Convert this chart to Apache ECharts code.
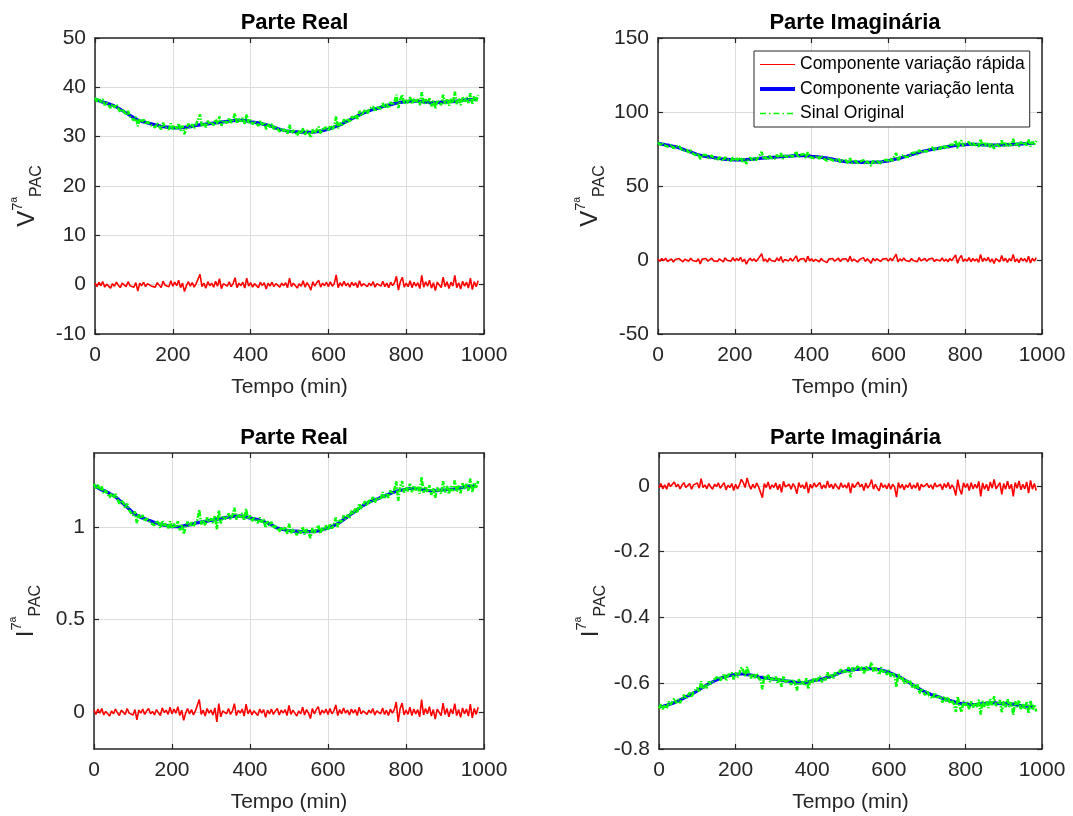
<!DOCTYPE html>
<html lang="pt">
<head>
<meta charset="utf-8">
<title>Componentes da 7ª harmônica no PAC</title>
<script src="https://cdn.jsdelivr.net/npm/echarts@6/dist/echarts.min.js"></script>
<style>
  html, body { margin: 0; padding: 0; background: #fff; }
  #grafico { width: 1073px; height: 816px; }
</style>
</head>
<body>
<div id="grafico"></div>
<script>
// Instantes de amostragem (min): componente rápida e sinal original a cada 5 min, componente lenta a cada 10 min
const tempoRapido = Array.from({ length: 198 }, (_, i) => i * 5);
const tempoLento = Array.from({ length: 99 }, (_, j) => j * 10);

// Tensão – parte real
const vRealLenta = [
  37.6, 37.3, 37.0, 36.8, 36.5, 36.2, 35.8, 35.3, 34.8, 34.3,
  33.8, 33.4, 33.1, 32.9, 32.7, 32.5, 32.3, 32.1, 32.0, 31.9,
  31.8, 31.8, 31.8, 31.9, 32.0, 32.1, 32.3, 32.4, 32.5, 32.6,
  32.7, 32.8, 32.9, 33.0, 33.1, 33.2, 33.3, 33.3, 33.3, 33.2,
  33.0, 32.9, 32.8, 32.6, 32.4, 32.2, 31.9, 31.6, 31.4, 31.2,
  31.1, 31.0, 31.0, 30.9, 30.9, 30.9, 30.9, 31.0, 31.1, 31.3,
  31.5, 31.8, 32.1, 32.4, 32.8, 33.2, 33.6, 34.0, 34.4, 34.8,
  35.1, 35.4, 35.6, 35.8, 36.1, 36.3, 36.5, 36.7, 36.9, 37.0,
  37.1, 37.2, 37.2, 37.2, 37.1, 37.0, 36.9, 36.9, 36.9, 37.0,
  37.0, 37.1, 37.1, 37.2, 37.3, 37.4, 37.5, 37.5, 37.6
];
const vRealRapida = [
  0.3, -0.4, 0.5, -0.2, 0.6, -0.5, 0.1, 0.4, -0.7, 0.2,
  -0.3, 0.5, -0.1, -0.6, 0.3, 0.2, -0.4, 0.6, -0.2, 0.1,
  -0.5, 0.4, -1.3, 0.3, -0.2, 0.5, -0.4, 0.2, 0.6, -0.3,
  0.1, -0.5, 0.4, 0.2, -0.6, 0.7, -0.1, 0.3, -0.4, 0.8,
  -0.3, 0.5, -0.2, 0.9, -0.6, 0.3, -1.4, -0.2, 0.6, -0.3,
  0.4, -0.5, 0.2, 0.5, 2.1, -0.4, 0.3, -0.7, 0.6, -0.2,
  0.3, -0.5, 0.7, -0.3, 1.2, -0.8, 0.2, 0.4, -0.3, 0.6,
  -0.4, 0.2, 1.4, -0.6, 0.3, -0.2, 0.5, -0.7, 1.3, -0.3,
  0.4, -0.5, 0.2, 0.3, -0.6, 0.5, -0.2, 0.4, -0.9, 0.3,
  -0.3, 0.5, -0.4, 0.2, 0.6, -0.5, 0.3, -0.2, 0.4, -0.6,
  1.3, -0.4, 0.3, 0.5, -0.7, 0.2, -0.3, 0.8, -0.5, 0.4,
  -0.2, -1.1, 0.6, -0.3, 0.4, 0.9, -0.5, 0.3, -0.2, 0.5,
  -0.4, 0.6, -0.3, 0.2, 2.0, -0.6, 0.4, -0.3, 0.7, -0.2,
  0.3, -0.5, 0.5, -0.2, 0.4, -0.6, 0.8, -0.3, 0.2, 0.5,
  -0.4, 0.3, -0.2, 0.6, -0.5, 0.2, 0.4, -0.3, 0.7, -0.4,
  0.3, -0.6, 0.5, -0.2, 0.4, 1.7, -1.1, 0.6, 1.5, -0.5,
  0.3, -0.4, 0.8, -0.6, 0.5, -0.3, 0.4, -0.8, 1.9, -0.5,
  0.6, -0.3, 0.9, -0.7, 0.4, -1.2, 0.5, 0.3, -0.6, 1.5,
  -0.4, 0.6, -0.8, 0.5, -0.3, 1.9, -0.6, 0.4, -0.9, 0.7,
  -0.3, 0.5, -0.7, 1.3, -1.0, 0.6, -0.4, 0.8
];
const vRealOriginal = [
  37.9, 37.1, 37.8, 37.0, 37.6, 36.4, 36.9, 37.1, 35.8, 36.6,
  35.9, 36.5, 35.7, 35.0, 35.6, 35.3, 34.4, 35.2, 34.1, 34.2,
  33.3, 34.0, 32.1, 33.6, 32.9, 33.5, 32.5, 33.0, 33.3, 32.3,
  32.6, 31.9, 32.7, 32.4, 31.5, 32.8, 31.9, 32.3, 31.5, 32.7,
  31.5, 32.3, 31.6, 32.7, 31.2, 32.2, 30.5, 31.8, 32.6, 31.8,
  32.5, 31.7, 32.5, 32.9, 34.5, 32.1, 32.8, 31.9, 33.2, 32.5,
  33.0, 32.3, 33.5, 32.6, 34.1, 32.2, 33.2, 33.5, 32.8, 33.8,
  32.8, 33.5, 34.7, 32.7, 33.6, 33.1, 33.8, 32.6, 34.5, 32.8,
  33.4, 32.5, 33.1, 33.2, 32.2, 33.2, 32.4, 32.9, 31.5, 32.6,
  31.9, 32.6, 31.5, 32.0, 32.2, 31.0, 31.7, 31.1, 31.6, 30.6,
  32.4, 30.7, 31.3, 31.5, 30.3, 31.2, 30.6, 31.7, 30.4, 31.3,
  30.7, 29.8, 31.5, 30.7, 31.4, 32.0, 30.6, 31.5, 31.1, 31.9,
  31.1, 32.3, 31.5, 32.2, 34.1, 31.7, 32.8, 32.3, 33.5, 32.8,
  33.5, 32.9, 34.1, 33.6, 34.4, 33.6, 35.2, 34.3, 35.0, 35.5,
  34.7, 35.6, 35.2, 36.1, 35.1, 35.9, 36.2, 35.7, 36.8, 35.8,
  36.6, 35.8, 37.0, 36.4, 37.1, 38.5, 35.8, 37.6, 38.5, 36.6,
  37.4, 36.8, 38.0, 36.6, 37.7, 36.9, 37.6, 36.4, 39.0, 36.6,
  37.6, 36.7, 37.8, 36.2, 37.3, 35.7, 37.4, 37.3, 36.4, 38.5,
  36.6, 37.7, 36.3, 37.6, 36.8, 39.1, 36.6, 37.7, 36.4, 38.1,
  37.1, 38.0, 36.8, 38.8, 36.5, 38.2, 37.2, 38.4
];

// Tensão – parte imaginária
const vImagLenta = [
  78.9, 78.3, 77.8, 77.4, 76.8, 76.2, 75.4, 74.4, 73.5, 72.5,
  71.5, 70.7, 70.1, 69.8, 69.4, 69.0, 68.6, 68.2, 68.0, 67.8,
  67.6, 67.6, 67.6, 67.8, 68.0, 68.2, 68.6, 68.8, 69.0, 69.2,
  69.4, 69.6, 69.8, 70.0, 70.1, 70.3, 70.5, 70.5, 70.5, 70.3,
  70.0, 69.8, 69.6, 69.2, 68.8, 68.4, 67.8, 67.2, 66.8, 66.4,
  66.2, 66.1, 66.1, 65.9, 65.9, 65.9, 65.9, 66.1, 66.2, 66.6,
  67.0, 67.6, 68.2, 68.8, 69.6, 70.3, 71.1, 71.9, 72.7, 73.5,
  74.0, 74.6, 75.0, 75.4, 76.0, 76.4, 76.8, 77.2, 77.6, 77.8,
  77.9, 78.1, 78.1, 78.1, 77.9, 77.8, 77.6, 77.6, 77.6, 77.8,
  77.8, 77.9, 77.9, 78.1, 78.3, 78.5, 78.7, 78.7, 78.9
];
const vImagRapida = [
  0.6, -0.8, 1.0, -0.4, 1.2, -1.0, 0.2, 0.8, -1.4, 0.4,
  -0.6, 1.0, -0.2, -1.2, 0.6, 0.4, -0.8, 1.2, -0.4, 0.2,
  -1.0, 0.8, -2.6, 0.6, -0.4, 1.0, -0.8, 0.4, 1.2, -0.6,
  0.2, -1.0, 0.8, 0.4, -1.2, 1.4, -0.2, 0.6, -0.8, 1.6,
  -0.6, 1.0, -0.4, 1.8, -1.2, 0.6, -2.8, -0.4, 1.2, -0.6,
  0.8, -1.0, 0.4, 1.0, 4.2, -0.8, 0.6, -1.4, 1.2, -0.4,
  0.6, -1.0, 1.4, -0.6, 2.4, -1.6, 0.4, 0.8, -0.6, 1.2,
  -0.8, 0.4, 2.8, -1.2, 0.6, -0.4, 1.0, -1.4, 2.6, -0.6,
  0.8, -1.0, 0.4, 0.6, -1.2, 1.0, -0.4, 0.8, -1.8, 0.6,
  -0.6, 1.0, -0.8, 0.4, 1.2, -1.0, 0.6, -0.4, 0.8, -1.2,
  2.6, -0.8, 0.6, 1.0, -1.4, 0.4, -0.6, 1.6, -1.0, 0.8,
  -0.4, -2.2, 1.2, -0.6, 0.8, 1.8, -1.0, 0.6, -0.4, 1.0,
  -0.8, 1.2, -0.6, 0.4, 4.0, -1.2, 0.8, -0.6, 1.4, -0.4,
  0.6, -1.0, 1.0, -0.4, 0.8, -1.2, 1.6, -0.6, 0.4, 1.0,
  -0.8, 0.6, -0.4, 1.2, -1.0, 0.4, 0.8, -0.6, 1.4, -0.8,
  0.6, -1.2, 1.0, -0.4, 0.8, 3.4, -2.2, 1.2, 3.0, -1.0,
  0.6, -0.8, 1.6, -1.2, 1.0, -0.6, 0.8, -1.6, 3.8, -1.0,
  1.2, -0.6, 1.8, -1.4, 0.8, -2.4, 1.0, 0.6, -1.2, 3.0,
  -0.8, 1.2, -1.6, 1.0, -0.6, 3.8, -1.2, 0.8, -1.8, 1.4,
  -0.6, 1.0, -1.4, 2.6, -2.0, 1.2, -0.8, 1.6
];
const vImagOriginal = [
  79.5, 77.8, 79.3, 77.7, 79.0, 76.6, 77.6, 77.9, 75.4, 76.9,
  75.6, 76.8, 75.2, 73.7, 75.0, 74.4, 72.7, 74.2, 72.1, 72.2,
  70.5, 71.9, 68.1, 71.0, 69.7, 71.0, 69.0, 70.0, 70.6, 68.6,
  69.2, 67.8, 69.4, 68.8, 67.0, 69.5, 67.8, 68.5, 67.0, 69.3,
  67.0, 68.6, 67.2, 69.4, 66.4, 68.3, 65.0, 67.5, 69.2, 67.5,
  69.0, 67.4, 69.0, 69.7, 73.0, 68.1, 69.6, 67.7, 70.4, 68.9,
  70.0, 68.5, 71.0, 69.1, 72.2, 68.3, 70.4, 70.9, 69.5, 71.4,
  69.5, 70.8, 73.3, 69.3, 71.1, 70.1, 71.5, 69.0, 72.9, 69.6,
  70.8, 68.9, 70.2, 70.3, 68.4, 70.4, 68.8, 69.8, 67.0, 69.2,
  67.8, 69.1, 67.0, 67.9, 68.4, 66.0, 67.4, 66.2, 67.2, 65.1,
  68.8, 65.4, 66.7, 67.1, 64.7, 66.4, 65.3, 67.5, 64.9, 66.7,
  65.5, 63.7, 67.1, 65.4, 66.9, 68.0, 65.2, 67.0, 66.2, 67.8,
  66.2, 68.5, 67.0, 68.3, 72.2, 67.3, 69.6, 68.6, 71.0, 69.6,
  70.9, 69.7, 72.1, 71.1, 72.7, 71.1, 74.3, 72.5, 73.9, 74.8,
  73.2, 74.9, 74.2, 76.0, 74.0, 75.6, 76.2, 75.1, 77.4, 75.4,
  77.0, 75.4, 77.8, 76.6, 78.0, 80.8, 75.4, 78.9, 80.8, 76.9,
  78.5, 77.2, 79.7, 76.9, 79.1, 77.5, 78.9, 76.4, 81.7, 76.9,
  79.0, 77.1, 79.4, 76.2, 78.4, 75.2, 78.6, 78.3, 76.6, 80.8,
  77.0, 79.1, 76.3, 78.9, 77.3, 81.8, 76.9, 79.0, 76.5, 79.8,
  77.9, 79.6, 77.3, 81.3, 76.7, 80.0, 78.1, 80.5
];

// Corrente – parte real
const iRealLenta = [
  1.223, 1.212, 1.200, 1.193, 1.181, 1.170, 1.154, 1.135, 1.116, 1.097,
  1.078, 1.063, 1.052, 1.044, 1.036, 1.029, 1.021, 1.013, 1.010, 1.006,
  1.002, 1.002, 1.002, 1.006, 1.010, 1.013, 1.021, 1.025, 1.029, 1.032,
  1.036, 1.040, 1.044, 1.048, 1.052, 1.055, 1.059, 1.059, 1.059, 1.055,
  1.048, 1.044, 1.040, 1.032, 1.025, 1.017, 1.006, 0.994, 0.990, 0.984,
  0.981, 0.978, 0.978, 0.975, 0.975, 0.975, 0.975, 0.978, 0.981, 0.988,
  0.995, 1.002, 1.013, 1.025, 1.040, 1.055, 1.071, 1.086, 1.101, 1.116,
  1.128, 1.139, 1.147, 1.154, 1.166, 1.173, 1.181, 1.189, 1.196, 1.200,
  1.204, 1.208, 1.208, 1.208, 1.204, 1.200, 1.196, 1.196, 1.196, 1.200,
  1.200, 1.204, 1.204, 1.208, 1.212, 1.215, 1.219, 1.219, 1.223
];
const iRealRapida = [
  0.010, -0.013, 0.016, -0.006, 0.019, -0.016, 0.003, 0.013, -0.022, 0.006,
  -0.010, 0.016, -0.003, -0.019, 0.010, 0.006, -0.013, 0.019, -0.006, 0.003,
  -0.016, 0.013, -0.042, 0.010, -0.006, 0.016, -0.013, 0.006, 0.019, -0.010,
  0.003, -0.016, 0.013, 0.006, -0.019, 0.022, -0.003, 0.010, -0.013, 0.026,
  -0.010, 0.016, -0.006, 0.029, -0.019, 0.010, -0.045, -0.006, 0.019, -0.010,
  0.013, -0.016, 0.006, 0.016, 0.067, -0.013, 0.010, -0.022, 0.019, -0.006,
  0.010, -0.016, 0.022, -0.054, 0.045, -0.026, 0.006, 0.013, -0.010, 0.019,
  -0.013, 0.006, 0.045, -0.019, 0.010, -0.006, 0.016, -0.022, 0.042, -0.010,
  0.013, -0.016, 0.006, 0.010, -0.019, 0.016, -0.006, 0.013, -0.029, 0.010,
  -0.010, 0.016, -0.013, 0.006, 0.019, -0.016, 0.010, -0.006, 0.013, -0.019,
  0.036, -0.013, 0.010, 0.016, -0.022, 0.006, -0.010, 0.026, -0.016, 0.013,
  -0.006, -0.035, 0.019, -0.010, 0.013, 0.029, -0.016, 0.010, -0.006, 0.016,
  -0.013, 0.019, -0.010, 0.006, 0.038, -0.019, 0.013, -0.010, 0.022, -0.006,
  0.010, -0.016, 0.016, -0.006, 0.013, -0.019, 0.026, -0.010, 0.006, 0.016,
  -0.013, 0.010, -0.006, 0.019, -0.016, 0.006, 0.013, -0.010, 0.022, -0.013,
  0.010, -0.019, 0.016, -0.006, 0.013, 0.054, -0.054, 0.019, 0.048, -0.016,
  0.010, -0.013, 0.026, -0.019, 0.016, -0.010, 0.013, -0.026, 0.067, -0.016,
  0.019, -0.010, 0.029, -0.022, 0.013, -0.038, 0.016, 0.010, -0.019, 0.048,
  -0.013, 0.019, -0.026, 0.016, -0.010, 0.045, -0.019, 0.013, -0.029, 0.022,
  -0.010, 0.016, -0.022, 0.042, -0.032, 0.019, -0.013, 0.026
];
const iRealOriginal = [
  1.233, 1.205, 1.228, 1.200, 1.219, 1.181, 1.196, 1.200, 1.159, 1.182,
  1.160, 1.178, 1.151, 1.126, 1.145, 1.132, 1.103, 1.126, 1.091, 1.091,
  1.062, 1.084, 1.021, 1.068, 1.046, 1.064, 1.031, 1.046, 1.055, 1.023,
  1.032, 1.009, 1.034, 1.023, 0.994, 1.034, 1.007, 1.018, 0.993, 1.030,
  0.992, 1.018, 0.996, 1.031, 0.983, 1.014, 0.961, 1.002, 1.029, 1.002,
  1.026, 1.001, 1.027, 1.039, 1.092, 1.014, 1.039, 1.009, 1.051, 1.028,
  1.046, 1.022, 1.062, 0.988, 1.089, 1.020, 1.054, 1.063, 1.042, 1.073,
  1.042, 1.063, 1.104, 1.040, 1.069, 1.053, 1.075, 1.035, 1.097, 1.042,
  1.061, 1.030, 1.050, 1.052, 1.021, 1.052, 1.026, 1.042, 0.996, 1.031,
  1.007, 1.028, 0.993, 1.006, 1.013, 0.976, 1.000, 0.981, 0.997, 0.964,
  1.017, 0.967, 0.988, 0.994, 0.956, 0.983, 0.965, 1.001, 0.959, 0.988,
  0.969, 0.940, 0.994, 0.967, 0.991, 1.009, 0.965, 0.995, 0.982, 1.008,
  0.982, 1.018, 0.992, 1.014, 1.051, 1.000, 1.038, 1.023, 1.062, 1.042,
  1.065, 1.047, 1.087, 1.073, 1.099, 1.075, 1.127, 1.099, 1.122, 1.138,
  1.115, 1.144, 1.133, 1.162, 1.131, 1.157, 1.167, 1.150, 1.188, 1.157,
  1.183, 1.158, 1.197, 1.179, 1.202, 1.247, 1.142, 1.217, 1.248, 1.186,
  1.214, 1.193, 1.234, 1.189, 1.224, 1.198, 1.221, 1.180, 1.271, 1.186,
  1.219, 1.188, 1.225, 1.174, 1.209, 1.158, 1.212, 1.208, 1.181, 1.248,
  1.187, 1.221, 1.178, 1.220, 1.194, 1.251, 1.189, 1.223, 1.183, 1.236,
  1.205, 1.233, 1.197, 1.261, 1.187, 1.240, 1.210, 1.249
];

// Corrente – parte imaginária
const iImagLenta = [
  -0.672, -0.670, -0.667, -0.663, -0.659, -0.654, -0.648, -0.642, -0.636, -0.630,
  -0.623, -0.616, -0.609, -0.602, -0.596, -0.590, -0.585, -0.581, -0.578, -0.575,
  -0.573, -0.572, -0.572, -0.574, -0.575, -0.577, -0.581, -0.582, -0.584, -0.586,
  -0.588, -0.589, -0.591, -0.593, -0.594, -0.596, -0.598, -0.598, -0.598, -0.596,
  -0.593, -0.591, -0.589, -0.586, -0.582, -0.579, -0.574, -0.569, -0.565, -0.562,
  -0.560, -0.558, -0.558, -0.556, -0.556, -0.556, -0.556, -0.558, -0.560, -0.563,
  -0.567, -0.572, -0.577, -0.582, -0.589, -0.596, -0.603, -0.610, -0.617, -0.624,
  -0.629, -0.634, -0.638, -0.641, -0.646, -0.650, -0.653, -0.656, -0.660, -0.662,
  -0.663, -0.665, -0.665, -0.665, -0.663, -0.662, -0.660, -0.660, -0.660, -0.662,
  -0.662, -0.663, -0.663, -0.665, -0.667, -0.669, -0.670, -0.670, -0.672
];
const iImagRapida = [
  -0.005, 0.007, -0.009, 0.003, -0.010, 0.009, -0.002, -0.007, 0.012, -0.003,
  0.005, -0.009, 0.002, 0.010, -0.005, -0.003, 0.007, -0.010, 0.003, -0.002,
  0.009, -0.007, 0.022, -0.005, 0.003, -0.009, 0.007, -0.003, -0.010, 0.005,
  -0.002, 0.009, -0.007, -0.003, 0.010, -0.012, 0.002, -0.005, 0.007, -0.014,
  0.005, -0.009, 0.003, 0.020, 0.010, -0.005, 0.024, 0.003, -0.010, 0.005,
  -0.007, 0.009, -0.003, -0.009, -0.036, 0.007, -0.005, 0.012, -0.010, 0.003,
  -0.005, 0.009, -0.012, 0.005, -0.020, 0.014, -0.003, -0.007, 0.005, -0.010,
  0.007, -0.003, -0.024, 0.010, -0.005, 0.003, -0.009, 0.012, -0.022, 0.005,
  -0.007, 0.009, -0.003, -0.005, 0.010, -0.009, 0.003, -0.007, 0.015, -0.005,
  0.005, -0.009, 0.007, -0.003, -0.010, 0.009, -0.005, 0.003, -0.007, 0.010,
  -0.022, 0.007, -0.005, -0.009, 0.012, -0.003, 0.005, -0.014, 0.009, -0.007,
  0.003, 0.019, -0.010, 0.005, -0.007, -0.015, 0.009, -0.005, 0.003, -0.009,
  0.007, -0.010, 0.005, -0.003, -0.034, 0.010, -0.007, 0.005, -0.012, 0.003,
  -0.005, 0.009, -0.009, 0.003, -0.007, 0.010, -0.014, 0.005, -0.003, -0.009,
  0.007, -0.005, 0.003, -0.010, 0.009, -0.003, -0.007, 0.005, -0.012, 0.007,
  -0.005, 0.010, -0.009, 0.003, -0.007, -0.029, 0.019, -0.010, -0.026, 0.009,
  -0.005, 0.007, -0.014, 0.010, -0.009, 0.005, -0.007, 0.014, -0.032, 0.009,
  -0.010, 0.005, -0.015, 0.012, -0.007, 0.020, -0.009, -0.005, 0.010, -0.026,
  0.007, -0.010, 0.014, -0.009, 0.005, -0.032, 0.010, -0.007, 0.015, -0.012,
  0.005, -0.009, 0.012, -0.022, 0.017, -0.010, 0.007, -0.014
];
const iImagOriginal = [
  -0.677, -0.664, -0.679, -0.666, -0.677, -0.656, -0.665, -0.668, -0.647, -0.660,
  -0.649, -0.660, -0.646, -0.635, -0.647, -0.642, -0.629, -0.643, -0.627, -0.629,
  -0.614, -0.627, -0.594, -0.618, -0.606, -0.615, -0.595, -0.602, -0.606, -0.588,
  -0.592, -0.579, -0.592, -0.586, -0.571, -0.592, -0.576, -0.582, -0.568, -0.588,
  -0.568, -0.582, -0.569, -0.552, -0.562, -0.578, -0.550, -0.572, -0.585, -0.571,
  -0.584, -0.570, -0.584, -0.591, -0.618, -0.576, -0.589, -0.573, -0.596, -0.584,
  -0.593, -0.580, -0.601, -0.585, -0.611, -0.578, -0.596, -0.601, -0.589, -0.605,
  -0.589, -0.600, -0.622, -0.588, -0.603, -0.595, -0.607, -0.585, -0.618, -0.590,
  -0.600, -0.583, -0.594, -0.595, -0.579, -0.597, -0.583, -0.591, -0.567, -0.586,
  -0.574, -0.586, -0.567, -0.575, -0.579, -0.558, -0.570, -0.561, -0.569, -0.551,
  -0.582, -0.552, -0.563, -0.567, -0.546, -0.560, -0.551, -0.570, -0.547, -0.563,
  -0.553, -0.537, -0.566, -0.552, -0.565, -0.574, -0.551, -0.567, -0.560, -0.574,
  -0.560, -0.580, -0.567, -0.578, -0.611, -0.570, -0.589, -0.581, -0.601, -0.590,
  -0.601, -0.591, -0.612, -0.604, -0.617, -0.604, -0.631, -0.616, -0.627, -0.636,
  -0.622, -0.637, -0.631, -0.646, -0.629, -0.643, -0.648, -0.639, -0.658, -0.641,
  -0.655, -0.642, -0.662, -0.652, -0.663, -0.687, -0.641, -0.671, -0.688, -0.654,
  -0.668, -0.657, -0.679, -0.655, -0.674, -0.660, -0.672, -0.650, -0.695, -0.654,
  -0.672, -0.656, -0.675, -0.648, -0.667, -0.640, -0.669, -0.666, -0.652, -0.688,
  -0.655, -0.673, -0.649, -0.672, -0.658, -0.696, -0.655, -0.673, -0.652, -0.680,
  -0.664, -0.679, -0.658, -0.692, -0.653, -0.681, -0.665, -0.686
];

// Textos
const nomesSeries = ['Componente variação rápida', 'Componente variação lenta', 'Sinal Original'];
const titulos = ['Parte Real', 'Parte Imaginária', 'Parte Real', 'Parte Imaginária'];
const rotuloX = 'Tempo (min)';
const grandezas = ['V', 'V', 'I', 'I'];
const ticksX = [0, 200, 400, 600, 800, 1000];
const ticksY = [
  [-10, 0, 10, 20, 30, 40, 50],
  [-50, 0, 50, 100, 150],
  [0, 0.5, 1],
  [-0.8, -0.6, -0.4, -0.2, 0]
];
const limitesY = [[-10, 50], [-50, 150], [-0.2, 1.4], [-0.8, 0.1]];

const paineis = [
  { lenta: vRealLenta, rapida: vRealRapida, original: vRealOriginal },
  { lenta: vImagLenta, rapida: vImagRapida, original: vImagOriginal },
  { lenta: iRealLenta, rapida: iRealRapida, original: iRealOriginal },
  { lenta: iImagLenta, rapida: iImagRapida, original: iImagOriginal }
];

// Estilos e layout dos quatro eixos
const fonte = '"Liberation Sans", Arial, Helvetica, sans-serif';
const corEixo = '#262626';
const corGrade = '#dcdcdc';
const estiloLinhas = [
  { color: '#ff0000', width: 1.6 },
  { color: '#0000ff', width: 3.2 },
  { color: '#00ff00', width: 2.5, type: [5, 1.5, 1.5, 1.5] }
];
const estiloLegenda = [
  { color: '#ff0000', width: 1, type: 'solid' },
  { color: '#0000ff', width: 4, type: 'solid' },
  { color: '#00ff00', width: 1.3, type: [6, 3, 1.5, 3] }
];
const grades = [
  { left: 95, top: 38, width: 389, height: 296 },
  { left: 658, top: 38, width: 384, height: 296 },
  { left: 94, top: 453, width: 390, height: 296 },
  { left: 659, top: 453, width: 383, height: 296 }
];

const pares = (xs, ys) => ys.map((v, k) => [xs[k], v]);

const xAxis = [];
const yAxis = [];
const series = [];
const title = [];

grades.forEach((g, k) => {
  title.push({
    text: titulos[k],
    left: g.left + g.width / 2,
    top: g.top - 31,
    textAlign: 'center',
    textStyle: { fontSize: 22, fontWeight: 'bold', color: '#000', fontFamily: fonte }
  });

  const linhaEixo = { show: true, onZero: false, lineStyle: { color: corEixo, width: 1.5 } };
  const tick = { show: true, inside: true, length: 5, lineStyle: { color: corEixo, width: 1.2 } };

  // eixo x inferior (com rótulos) e superior (apenas marcas)
  xAxis.push({
    gridIndex: k, type: 'value', position: 'bottom', min: 0, max: 1000, interval: 200,
    name: rotuloX, nameLocation: 'middle', nameGap: 43,
    nameTextStyle: { fontSize: 21, color: corEixo, fontFamily: fonte },
    axisLine: linhaEixo,
    axisTick: Object.assign({ customValues: ticksX }, tick),
    axisLabel: {
      fontSize: 21, color: corEixo, margin: 11, fontFamily: fonte, customValues: ticksX,
      formatter: v => String(v)
    },
    splitLine: { show: true, lineStyle: { color: corGrade, width: 1 } }
  });
  xAxis.push({
    gridIndex: k, type: 'value', position: 'top', min: 0, max: 1000, interval: 200,
    axisLine: linhaEixo,
    axisTick: Object.assign({ customValues: ticksX }, tick),
    axisLabel: { show: false },
    splitLine: { show: false }
  });

  // eixo y esquerdo (com rótulos) e direito (apenas marcas)
  yAxis.push({
    gridIndex: k, type: 'value', position: 'left', min: limitesY[k][0], max: limitesY[k][1],
    name: '{v|' + grandezas[k] + '}{sup|7ª}{sub|PAC}',
    nameLocation: 'middle', nameGap: 50,
    nameTextStyle: {
      padding: [0, 20, 0, 0],
      rich: {
        v: { fontSize: 24, lineHeight: 35, color: corEixo, fontFamily: fonte },
        sup: { fontSize: 15, lineHeight: 24, verticalAlign: 'top', color: corEixo, fontFamily: fonte },
        sub: { fontSize: 16, lineHeight: 12, verticalAlign: 'bottom', color: corEixo, fontFamily: fonte }
      }
    },
    axisLine: linhaEixo,
    axisTick: Object.assign({ customValues: ticksY[k] }, tick),
    axisLabel: { fontSize: 21, color: corEixo, margin: 9, fontFamily: fonte, customValues: ticksY[k] },
    splitLine: { show: true, lineStyle: { color: corGrade, width: 1 } }
  });
  yAxis.push({
    gridIndex: k, type: 'value', position: 'right', min: limitesY[k][0], max: limitesY[k][1],
    axisLine: linhaEixo,
    axisTick: Object.assign({ customValues: ticksY[k] }, tick),
    axisLabel: { show: false },
    splitLine: { show: false }
  });

  const p = paineis[k];
  const dados = [pares(tempoRapido, p.rapida), pares(tempoLento, p.lenta), pares(tempoRapido, p.original)];
  dados.forEach((d, s) => {
    series.push({
      type: 'line', name: nomesSeries[s], data: d,
      xAxisIndex: 2 * k, yAxisIndex: 2 * k,
      symbol: 'none', silent: true, animation: false, z: 2 + s,
      itemStyle: { color: estiloLinhas[s].color },
      lineStyle: estiloLinhas[s]
    });
  });
});

const chart = echarts.init(document.getElementById('grafico'), null, { renderer: 'canvas' });
chart.setOption({
  animation: false,
  backgroundColor: '#ffffff',
  textStyle: { fontFamily: fonte },
  title: title,
  grid: grades.map(g => Object.assign({ containLabel: false, outerBoundsMode: 'none' }, g)),
  xAxis: xAxis,
  yAxis: yAxis,
  legend: {
    data: nomesSeries.map((n, s) => ({ name: n, lineStyle: estiloLegenda[s] })),
    orient: 'vertical',
    left: 754,
    top: 51,
    z: 10,
    padding: [4.5, 5, 4.5, 4],
    itemGap: 6.5,
    itemWidth: 35,
    itemHeight: 14,
    selectedMode: false,
    itemStyle: { opacity: 0 },
    backgroundColor: '#ffffff',
    borderColor: corEixo,
    borderWidth: 1,
    borderRadius: 0,
    textStyle: { fontSize: 17.5, lineHeight: 17, color: '#000', fontFamily: fonte }
  },
  series: series
});
</script>
</body>
</html>
